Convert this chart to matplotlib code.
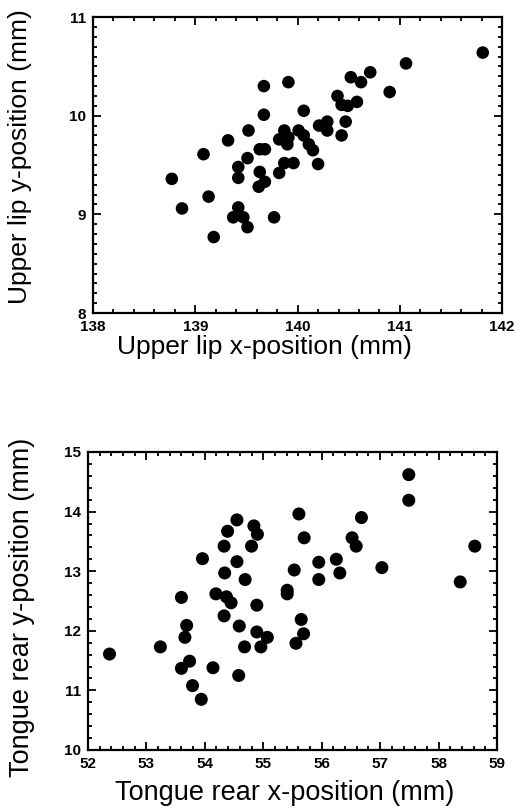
import matplotlib
matplotlib.use("Agg")
import matplotlib.pyplot as plt
from matplotlib.ticker import MultipleLocator

plt.rcParams['font.family'] = ['Liberation Sans', 'DejaVu Sans']

# upper lip positions (mm)
lip_x = [141.81, 141.06, 140.71, 140.90, 140.52, 140.62, 140.39, 140.43, 140.58,
         140.49, 140.47, 140.43, 140.29, 140.21, 140.29, 140.20, 140.06, 140.01,
         140.06, 140.11, 140.15, 139.91, 139.67, 139.67, 139.52, 139.32, 139.08,
         138.77, 138.87, 139.13, 139.18, 139.51, 139.63, 139.68, 139.42, 139.42,
         139.63, 139.62, 139.68, 139.82, 139.87, 139.96, 139.82, 139.87, 139.90,
         139.91, 139.42, 139.37, 139.47, 139.51, 139.77]
lip_y = [10.64, 10.53, 10.44, 10.24, 10.39, 10.34, 10.20, 10.11, 10.14,
         10.10, 9.94, 9.80, 9.94, 9.90, 9.85, 9.51, 10.05, 9.85,
         9.80, 9.71, 9.65, 10.34, 10.30, 10.01, 9.85, 9.75, 9.61,
         9.36, 9.06, 9.18, 8.77, 9.57, 9.66, 9.66, 9.48, 9.37,
         9.43, 9.28, 9.33, 9.42, 9.52, 9.52, 9.76, 9.85, 9.71,
         9.78, 9.07, 8.97, 8.97, 8.87, 8.97]

# tongue rear positions (mm)
tongue_x = [57.49, 57.49, 58.62, 58.37, 57.03, 56.68, 56.52, 56.59, 56.25, 56.31,
            55.95, 55.95, 55.61, 55.70, 55.53, 55.41, 55.41, 55.65, 55.69, 55.56,
            54.55, 54.39, 54.33, 54.84, 54.90, 54.80, 54.55, 54.34, 54.69, 53.96,
            54.19, 54.37, 54.45, 54.89, 54.33, 54.59, 54.89, 55.07, 54.96, 54.68,
            53.60, 53.69, 53.66, 53.24, 52.37, 53.74, 53.60, 53.79, 53.94, 54.14,
            54.58]
tongue_y = [14.62, 14.19, 13.42, 12.82, 13.06, 13.90, 13.56, 13.42, 13.20, 12.97,
            13.15, 12.86, 13.96, 13.56, 13.02, 12.68, 12.62, 12.19, 11.95, 11.79,
            13.86, 13.67, 13.42, 13.76, 13.62, 13.42, 13.16, 12.97, 12.86, 13.21,
            12.62, 12.57, 12.47, 12.43, 12.25, 12.08, 11.98, 11.89, 11.73, 11.73,
            12.56, 12.09, 11.89, 11.73, 11.61, 11.49, 11.37, 11.08, 10.85, 11.38,
            11.25]


def style(ax, xminor, yminor):
    for s in ax.spines.values():
        s.set_linewidth(1.6)
    ax.xaxis.set_major_locator(MultipleLocator(1))
    ax.yaxis.set_major_locator(MultipleLocator(1))
    ax.xaxis.set_minor_locator(MultipleLocator(xminor))
    ax.yaxis.set_minor_locator(MultipleLocator(yminor))
    ax.tick_params(which='both', direction='in', top=True, right=True, width=1.3)
    ax.tick_params(which='major', length=6, labelsize=11, pad=5)
    ax.tick_params(which='minor', length=3)
    for lab in ax.get_xticklabels() + ax.get_yticklabels():
        lab.set_fontweight('bold')


fig = plt.figure(figsize=(5.14, 8.08), dpi=100)

ax1 = fig.add_axes([0.181, 0.6126, 0.796, 0.3663])
ax1.scatter(lip_x, lip_y, s=82, c='black', edgecolors='none')
ax1.set_xlim(138, 142)
ax1.set_ylim(8, 11)
style(ax1, 0.2, 0.1)
ax1.set_xlabel("Upper lip x-position (mm)", fontsize=19)
ax1.set_ylabel("Upper lip y-position (mm)", fontsize=19)
ax1.xaxis.set_label_coords(0.42, -0.075)
ax1.yaxis.set_label_coords(-0.15, 0.527)

ax2 = fig.add_axes([0.171, 0.0718, 0.796, 0.3688])
ax2.scatter(tongue_x, tongue_y, s=88, c='black', edgecolors='none')
ax2.set_xlim(52, 59)
ax2.set_ylim(10, 15)
style(ax2, 0.2, 0.2)
ax2.set_xlabel("Tongue rear x-position (mm)", fontsize=19.5)
ax2.set_ylabel("Tongue rear y-position (mm)", fontsize=19.5)
ax2.xaxis.set_label_coords(0.48, -0.10)
ax2.yaxis.set_label_coords(-0.13, 0.48)

fig.savefig("out.png", dpi=100)
